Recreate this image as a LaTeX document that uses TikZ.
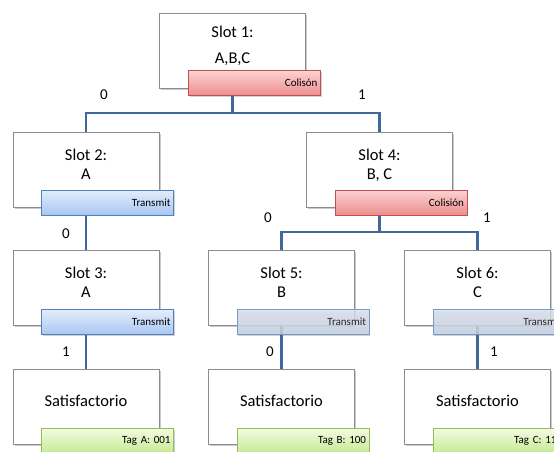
\documentclass[tikz,border=0pt]{standalone}
\usepackage{fontspec}
\setmainfont{Carlito}
\usetikzlibrary{shadows,backgrounds}
\definecolor{linkblue}{HTML}{41689C}
\definecolor{boxgray}{HTML}{8C8C8C}
\definecolor{redtop}{HTML}{FCD2D2}
\definecolor{redbot}{HTML}{EC8E8E}
\definecolor{redline}{HTML}{C0504D}
\definecolor{bluetop}{HTML}{E3EDFC}
\definecolor{bluebot}{HTML}{A9C6F2}
\definecolor{blueline}{HTML}{4F81BD}
\definecolor{paletop}{HTML}{DDE4F0}
\definecolor{palebot}{HTML}{C9D4E6}
\definecolor{greentop}{HTML}{F2FBE2}
\definecolor{greenbot}{HTML}{C6EA90}
\definecolor{greenline}{HTML}{9BBB59}
\tikzset{
  slotbox/.style={draw=boxgray, line width=0.8pt, fill=white,
    minimum width=146, minimum height=75, inner sep=0pt, align=center,
    text depth=11pt,
    font=\fontsize{16.5}{19}\selectfont,
    drop shadow={shadow xshift=1.6pt, shadow yshift=-1.6pt, opacity=0.35, fill=black!60}},
  tagbox/.style={line width=0.8pt, minimum width=132, minimum height=25,
    inner sep=0pt, text width=126, align=right,
    font=\fontsize{11}{12}\selectfont,
    drop shadow={shadow xshift=1.4pt, shadow yshift=-1.4pt, opacity=0.3, fill=black!60}},
  redtag/.style={tagbox, draw=redline, top color=redtop, bottom color=redbot},
  bluetag/.style={tagbox, draw=blueline, top color=bluetop, bottom color=bluebot},
  paletag/.style={tagbox, draw=blueline!80, top color=paletop, bottom color=palebot, fill opacity=0.82},
  greentag/.style={tagbox, draw=greenline, top color=greentop, bottom color=greenbot},
  link/.style={draw=linkblue, line width=2.2pt},
  bit/.style={font=\fontsize{15}{17}\selectfont, inner sep=0pt}
}
\begin{document}
\begin{tikzpicture}[x=1pt, y=-1pt]
\useasboundingbox (0,0) rectangle (554,452);

% slot boxes
\node[slotbox] (s1) at (232.5,50.5) {Slot 1:\\[7pt]A,B,C};
\node[slotbox] (s2) at (86,169.5) {Slot 2:\\A};
\node[slotbox] (s4) at (379.5,169.5) {Slot 4:\\B, C};
\node[slotbox] (s3) at (86,288) {Slot 3:\\A};
\node[slotbox] (s5) at (281.5,288) {Slot 5:\\B};
\node[slotbox] (s6) at (477.5,288) {Slot 6:\\C};
\node[slotbox] (ra) at (86,406.5) {Satisfactorio};
\node[slotbox] (rb) at (281.5,406.5) {Satisfactorio};
\node[slotbox] (rc) at (477.5,406.5) {Satisfactorio};

% connectors, kept behind the boxes
\begin{scope}[on background layer]
  \coordinate (j1) at (232.5,113);
  \coordinate (j4) at (379.5,232);
  \draw[link] (s1.center) -- (j1);
  \draw[link] (s2.center) |- (j1) -| (s4.center);
  \draw[link] (s4.center) -- (j4);
  \draw[link] (s5.center) |- (j4) -| (s6.center);
  \draw[link] (s2.center) -- (s3.center);
  \draw[link] (s3.center) -- (ra.center);
  \draw[link] (s5.center) -- (rb.center);
  \draw[link] (s6.center) -- (rc.center);
\end{scope}

% status tags
\node[redtag] (t1) at (254.5,83) {Colisón};
\node[bluetag] (t2) at (107.5,202.5) {Transmit};
\node[redtag] (t4) at (401,202.5) {Colisión};
\node[bluetag] (t3) at (107.5,322) {Transmit};
\node[paletag] (t5) at (303,322) {Transmit};
\node[paletag] (t6) at (499,322) {Transmit};
\node[greentag] (ga) at (107.5,441) {Tag A: 001};
\node[greentag] (gb) at (303,441) {Tag B: 100};
\node[greentag] (gc) at (499,441) {Tag C: 110};

% branch bits
\node[bit] (b1) at (104,95) {0};
\node[bit] (b2) at (362,95) {1};
\node[bit] (b3) at (66,234) {0};
\node[bit] (b4) at (268,218) {0};
\node[bit] (b5) at (487,218) {1};
\node[bit] (b6) at (66,352) {1};
\node[bit] (b7) at (270,352) {0};
\node[bit] (b8) at (494,352) {1};
\end{tikzpicture}
\end{document}
